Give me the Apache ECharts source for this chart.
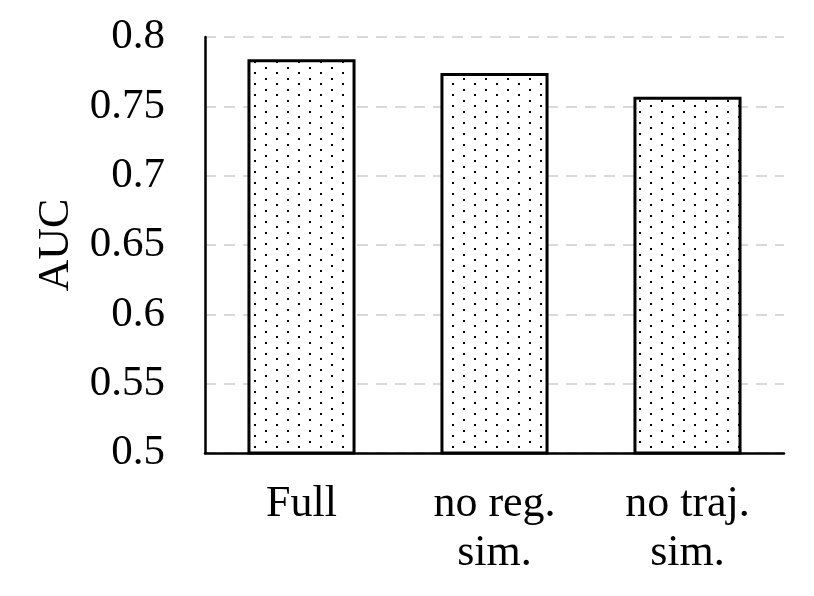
<!DOCTYPE html>
<html>
<head>
<meta charset="utf-8">
<script src="https://cdn.jsdelivr.net/npm/echarts@6/dist/echarts.min.js"></script>
<style>
html,body{margin:0;padding:0;background:#fff;}
#chart{width:814px;height:596px;}
</style>
</head>
<body>
<div id="chart"></div>
<script>
const categories = ['Full', 'no reg.\nsim.', 'no traj.\nsim.'];
const aucValues = [0.784, 0.774, 0.757];
const yTicks = [0.5, 0.55, 0.6, 0.65, 0.7, 0.75, 0.8];

function makeDots() {
  const c = document.createElement('canvas');
  c.width = 22; c.height = 11;
  const g = c.getContext('2d');
  g.fillStyle = '#fff';
  g.fillRect(0, 0, 22, 11);
  g.fillStyle = '#000';
  g.fillRect(1, 1, 2, 2);
  g.fillRect(12, 6, 2, 2);
  return c;
}

const FONT = "'Times New Roman', 'Liberation Serif', serif";
const chart = echarts.init(document.getElementById('chart'), null, {renderer: 'canvas'});
chart.setOption({
  animation: false,
  backgroundColor: '#fff',
  grid: {left: 205, right: 30, top: 37, bottom: 143},
  xAxis: {
    type: 'category',
    data: categories,
    axisLine: {lineStyle: {color: '#000', width: 2.5}},
    axisTick: {show: false},
    axisLabel: {color: '#000', fontFamily: FONT, fontSize: 44, lineHeight: 49, margin: 27}
  },
  yAxis: {
    type: 'value',
    min: yTicks[0],
    max: yTicks[yTicks.length - 1],
    interval: 0.05,
    name: 'AUC',
    nameLocation: 'middle',
    nameGap: 126,
    nameTextStyle: {color: '#000', fontFamily: FONT, fontSize: 44},
    axisLine: {show: true, lineStyle: {color: '#000', width: 2.5}},
    axisTick: {show: false},
    axisLabel: {color: '#000', fontFamily: FONT, fontSize: 43, margin: 40},
    splitLine: {show: true, lineStyle: {color: '#d9d9d9', width: 2, type: [11, 8]}}
  },
  series: [{
    type: 'bar',
    data: aucValues,
    barWidth: '56%',
    itemStyle: {
      color: {image: makeDots(), repeat: 'repeat'},
      borderColor: '#000',
      borderWidth: 3
    }
  }]
});
</script>
</body>
</html>
